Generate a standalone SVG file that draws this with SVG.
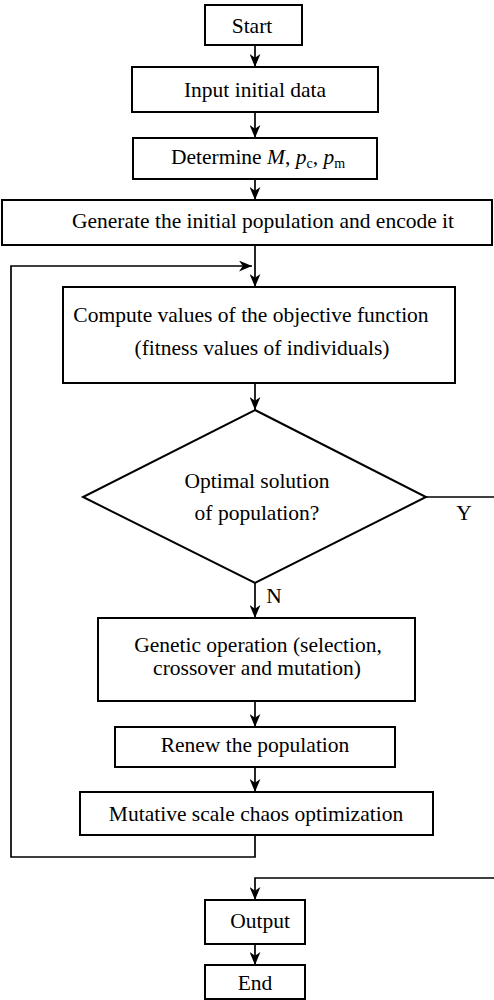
<svg xmlns="http://www.w3.org/2000/svg" width="494" height="1000" viewBox="0 0 494 1000">
<style>
.box{fill:#fff;stroke:#000;stroke-width:2}
.ln{fill:none;stroke:#000;stroke-width:1.7}
.t{font-family:"Liberation Serif","Times New Roman",serif;font-size:21.5px;fill:#000;text-anchor:middle}
.sub{font-size:14px}
</style>
<defs>
<marker id="arr" viewBox="0 0 12 10" refX="12" refY="5" markerWidth="13" markerHeight="11" markerUnits="userSpaceOnUse" orient="auto">
<path d="M0,0 L12,5 L0,10 L3.5,5 z" fill="#000"/>
</marker>
</defs>
<rect width="494" height="1000" fill="#fff"/>
<g id="connectors">
<path class="ln" d="M255,45 V67" marker-end="url(#arr)"/>
<path class="ln" d="M255,112 V138" marker-end="url(#arr)"/>
<path class="ln" d="M255,179 V200" marker-end="url(#arr)"/>
<path class="ln" d="M255,245 V287" marker-end="url(#arr)"/>
<path class="ln" d="M255,383 V410" marker-end="url(#arr)"/>
<path class="ln" d="M255,583 V618" marker-end="url(#arr)"/>
<path class="ln" d="M255,701 V727" marker-end="url(#arr)"/>
<path class="ln" d="M255,767 V792" marker-end="url(#arr)"/>
<path class="ln" d="M255,835 V857 H11 V266 H252" marker-end="url(#arr)"/>
<path class="ln" d="M426,497 H494"/>
<path class="ln" d="M494,878 H255 V900" marker-end="url(#arr)"/>
<path class="ln" d="M255,944 V965" marker-end="url(#arr)"/>
<text class="t" x="464" y="520">Y</text>
<text class="t" x="274" y="603">N</text>
</g>
<g id="start">
<rect class="box" x="205" y="5" width="97" height="40"/>
<text class="t" x="252" y="33">Start</text>
</g>
<g id="input">
<rect class="box" x="132" y="67" width="246" height="45"/>
<text class="t" x="255" y="97">Input initial data</text>
</g>
<g id="determine">
<rect class="box" x="133" y="138" width="244" height="41"/>
<text class="t" x="258" y="164">Determine <tspan font-style="italic">M</tspan>, <tspan font-style="italic">p</tspan><tspan class="sub" dy="4">c</tspan><tspan dy="-4">, </tspan><tspan font-style="italic">p</tspan><tspan class="sub" dy="4">m</tspan></text>
</g>
<g id="generate">
<rect class="box" x="2" y="200" width="490" height="45"/>
<text class="t" x="263" y="228">Generate the initial population and encode it</text>
</g>
<g id="compute">
<rect class="box" x="63" y="287" width="392" height="96"/>
<text class="t" x="251" y="322">Compute values of the objective function</text>
<text class="t" x="262" y="355">(fitness values of individuals)</text>
</g>
<g id="decision">
<polygon class="box" points="255,410 426,497 255,583 83,497"/>
<text class="t" x="257" y="488">Optimal solution</text>
<text class="t" x="257" y="520">of population?</text>
</g>
<g id="genetic">
<rect class="box" x="98" y="618" width="317" height="83"/>
<text class="t" x="258" y="652">Genetic operation (selection,</text>
<text class="t" x="257" y="675">crossover and mutation)</text>
</g>
<g id="renew">
<rect class="box" x="115" y="727" width="280" height="40"/>
<text class="t" x="255" y="752">Renew the population</text>
</g>
<g id="chaos">
<rect class="box" x="80" y="792" width="353" height="43"/>
<text class="t" x="256" y="821">Mutative scale chaos optimization</text>
</g>
<g id="output">
<rect class="box" x="205" y="900" width="100" height="44"/>
<text class="t" x="260" y="928">Output</text>
</g>
<g id="end">
<rect class="box" x="205" y="965" width="100" height="34"/>
<text class="t" x="255" y="990">End</text>
</g>
</svg>
